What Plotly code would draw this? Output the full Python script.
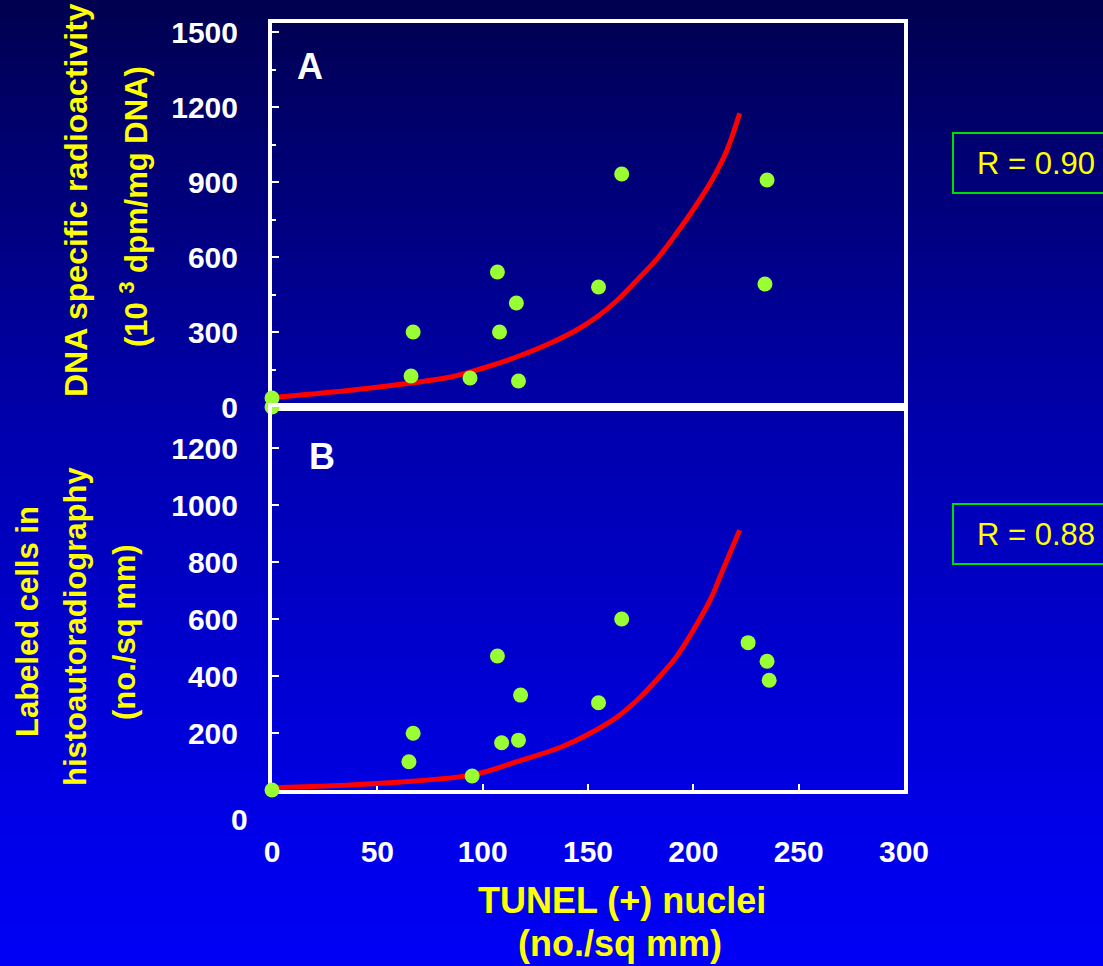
import plotly.graph_objects as go

W, H = 1103, 966

# ---------------- data ----------------
x_ticks = [0, 50, 100, 150, 200, 250, 300]
ya_ticks = [0, 300, 600, 900, 1200, 1500]
yb_ticks = [200, 400, 600, 800, 1000, 1200]
yb_zero_label = "0"

# Panel A: DNA specific radioactivity vs TUNEL(+) nuclei
a_x = [0, 0, 66, 67, 94, 107, 108, 116, 117, 155, 166, 235, 234]
a_y = [36, 0, 124, 300, 116, 540, 300, 416, 104, 480, 932, 908, 492]
a_fit_x = [0, 35, 65, 85, 100, 116, 132, 145, 155, 164, 173, 183, 192, 200, 209, 216, 222]
a_fit_y = [38, 65, 95, 120, 155, 200, 255, 310, 365, 428, 505, 595, 695, 790, 910, 1028, 1175]

# Panel B: labeled cells in histoautoradiography vs TUNEL(+) nuclei
b_x = [0, 65, 67, 95, 107, 109, 117, 118, 155, 166, 226, 235, 236]
b_y = [0, 99, 199, 49, 470, 166, 175, 333, 306, 600, 517, 452, 385]
b_fit_x = [0, 50, 95, 116, 137, 151, 164, 175, 184, 192, 200, 208, 214, 222]
b_fit_y = [8, 23, 53, 99, 150, 199, 257, 327, 398, 468, 561, 667, 772, 912]

r_labels = ["R = 0.90", "R = 0.88"]
panel_labels = ["A", "B"]

# ---------------- helpers ----------------
def px(v):
    return v / W

def py(v):
    return 1 - v / H

FONT = "Liberation Sans, Arial, sans-serif"
YEL = "#FFFF00"
GREEN = "#99FF33"

fig = go.Figure()

fig.add_trace(go.Scatter(x=a_fit_x, y=a_fit_y, mode="lines", line=dict(color="#FF0000", width=5, shape="spline"),
                         xaxis="x", yaxis="y", cliponaxis=False, showlegend=False))
fig.add_trace(go.Scatter(x=a_x, y=a_y, mode="markers", marker=dict(color=GREEN, size=15),
                         xaxis="x", yaxis="y", cliponaxis=False, showlegend=False))
fig.add_trace(go.Scatter(x=b_fit_x, y=b_fit_y, mode="lines", line=dict(color="#FF0000", width=5, shape="spline"),
                         xaxis="x2", yaxis="y2", cliponaxis=False, showlegend=False))
fig.add_trace(go.Scatter(x=b_x, y=b_y, mode="markers", marker=dict(color=GREEN, size=15),
                         xaxis="x2", yaxis="y2", cliponaxis=False, showlegend=False))

# ---------------- background gradient ----------------
stops = [(0, 80), (420, 172), (860, 236), (966, 245)]
def blue_at(yv):
    for (y0, c0), (y1, c1) in zip(stops[:-1], stops[1:]):
        if y0 <= yv <= y1:
            return c0 + (c1 - c0) * (yv - y0) / (y1 - y0)
    return stops[-1][1]

shapes = []
n = 161
step = H / n
for i in range(n):
    y0 = i * step
    y1 = min(H, y0 + step + 1)
    c = int(round(blue_at(y0 + step / 2)))
    shapes.append(dict(type="rect", xref="paper", yref="paper", x0=0, x1=1,
                       y0=py(y1), y1=py(y0), fillcolor=f"rgb(0,0,{c})",
                       line=dict(width=0), layer="below"))

# R boxes
for top, bot in [(133, 193), (504, 564)]:
    shapes.append(dict(type="rect", xref="paper", yref="paper", x0=px(953), x1=px(1115),
                       y0=py(bot), y1=py(top), line=dict(color="#00DD00", width=2),
                       fillcolor="rgba(0,0,0,0)", layer="above"))

x_dom = [px(272), px(904)]
a_dom = [py(407), py(23)]
b_dom = [py(790), py(407)]

common_axis = dict(showline=True, linecolor="white", linewidth=4, mirror=True,
                   showgrid=False, zeroline=False, layer="below traces", automargin=False)

tickfont = dict(family=FONT, size=30, color="white", weight="bold")

fig.update_layout(
    width=W, height=H,
    autosize=False,
    margin=dict(l=0, r=0, t=0, b=0, pad=0, autoexpand=False),
    paper_bgcolor="rgb(0,0,120)",
    plot_bgcolor="rgba(0,0,0,0)",
    showlegend=False,
    shapes=shapes,
    xaxis=dict(domain=x_dom, anchor="y", range=[0, 300], showticklabels=False, ticks="",
               **common_axis),
    yaxis=dict(domain=a_dom, anchor="x", range=[0, 1536], tickvals=ya_ticks,
               ticktext=[str(v) for v in ya_ticks],
               ticks="inside", ticklen=7, tickwidth=2, tickcolor="white",
               minor=dict(dtick=150, ticks="inside", ticklen=4, tickwidth=2, tickcolor="white"),
               tickfont=tickfont, ticklabelstandoff=24, **common_axis),
    xaxis2=dict(domain=x_dom, anchor="y2", range=[0, 300], tickvals=x_ticks,
                ticktext=[str(v) for v in x_ticks],
                ticks="inside", ticklen=6, tickwidth=2, tickcolor="white",
                tickfont=tickfont, ticklabelstandoff=32, **common_axis),
    yaxis2=dict(domain=b_dom, anchor="x2", range=[0, 1344], tickvals=yb_ticks,
                ticktext=[str(v) for v in yb_ticks],
                ticks="inside", ticklen=7, tickwidth=2, tickcolor="white",
                tickfont=tickfont, ticklabelstandoff=24, **common_axis),
)

ann = []
def add_text(text, x, y, size, color, bold=True, angle=0, xanchor="center", yanchor="middle"):
    ann.append(dict(text=text, x=px(x), y=py(y), xref="paper", yref="paper", showarrow=False,
                    textangle=angle, xanchor=xanchor, yanchor=yanchor,
                    font=dict(family=FONT, size=size, color=color, weight="bold" if bold else "normal")))

# panel letters
add_text(panel_labels[0], 310, 66, 36, "white")
add_text(panel_labels[1], 322, 456, 36, "white")
# B zero label (drawn below the axis in the original)
add_text(yb_zero_label, 239, 819, 30, "white")

# y titles
add_text("DNA specific radioactivity", 76, 200, 32, YEL, angle=-90)
add_text("(10 <sup>3</sup> dpm/mg DNA)", 134, 207, 31, YEL, angle=-90)
add_text("Labeled cells in", 27, 622, 31, YEL, angle=-90)
add_text("histoautoradiography", 75, 627, 31, YEL, angle=-90)
add_text("(no./sq mm)", 124, 632, 31, YEL, angle=-90)

# x title
add_text("TUNEL (+) nuclei", 622, 900, 36, YEL)
add_text("(no./sq mm)", 620, 943, 36, YEL)

# R values
add_text(r_labels[0], 975, 163, 31, YEL, bold=False, xanchor="left")
add_text(r_labels[1], 975, 534, 31, YEL, bold=False, xanchor="left")

fig.update_layout(annotations=ann)

fig.write_html(
    "out.html",
    config={"responsive": False, "displayModeBar": False},
    post_script="document.body.style.margin='0';document.body.style.padding='0';document.body.style.overflow='hidden';document.documentElement.style.overflow='hidden';",
)
